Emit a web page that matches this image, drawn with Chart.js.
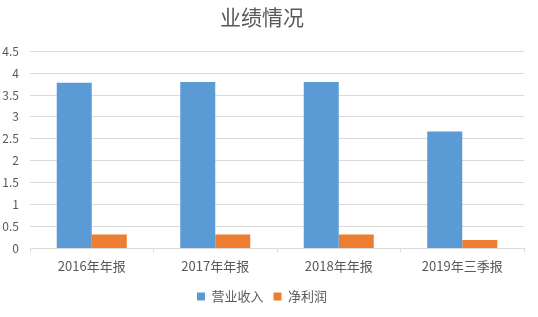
<!DOCTYPE html>
<html><head><meta charset="utf-8">
<script src="https://cdn.jsdelivr.net/npm/chart.js@4/dist/chart.umd.min.js"></script>
<style>html,body{margin:0;padding:0;background:#fff;}#wrap{width:538px;height:317px;}</style>
</head><body><div id="wrap"><canvas id="c"></canvas></div>
<script>
const categories = ["2016年年报", "2017年年报", "2018年年报", "2019年三季报"];
const revenue = [3.78, 3.80, 3.80, 2.67];
const netProfit = [0.32, 0.32, 0.32, 0.19];
const seriesNames = ["营业收入", "净利润"];
const FONT = '"Noto Sans CJK SC", "Noto Sans", sans-serif';
new Chart(document.getElementById('c'), {
  type: 'bar',
  data: {
    labels: categories,
    datasets: [
      {label: seriesNames[0], data: revenue, backgroundColor: '#5B9BD5', borderWidth: 0},
      {label: seriesNames[1], data: netProfit, backgroundColor: '#ED7D31', borderWidth: 0}
    ]
  },
  options: {
    responsive: true, maintainAspectRatio: false, animation: false,
    layout: {padding: {left: 0, right: 14, top: 4, bottom: 4}},
    datasets: {bar: {barPercentage: 1, categoryPercentage: 0.567}},
    plugins: {
      title: {display: true, text: '业绩情况', color: '#595959', font: {family: FONT, size: 21, weight: 'normal'}, padding: {top: 0, bottom: 22}},
      legend: {position: 'bottom', labels: {color: '#595959', font: {family: FONT, size: 13}, boxWidth: 8, boxHeight: 8, padding: 10}},
      tooltip: {enabled: false}
    },
    scales: {
      x: {grid: {display: true, drawOnChartArea: false, drawTicks: true, tickLength: 4, color: '#D9D9D9'}, border: {color: '#D9D9D9'},
          ticks: {color: '#595959', font: {family: FONT, size: 13}, padding: 6}},
      y: {min: 0, max: 4.5, grid: {color: '#D9D9D9', drawTicks: false}, border: {display: false},
          afterFit: s => { s.width = 30; },
          ticks: {stepSize: 0.5, color: '#595959', font: {family: FONT, size: 12}, padding: 11,
                  callback: v => String(v)}}
    }
  }
});
</script></body></html>
